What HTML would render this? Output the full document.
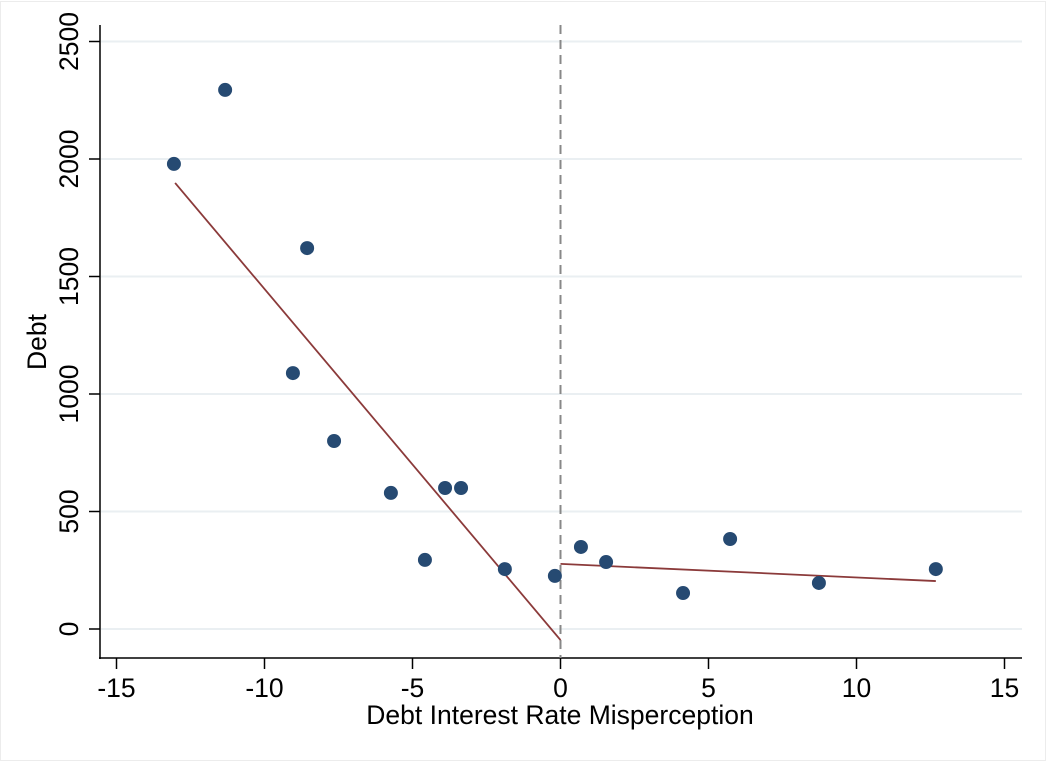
<!DOCTYPE html>
<html><head><meta charset="utf-8"><style>
body{margin:0;background:#fff;}
svg text{font-family:"Liberation Sans",Arial,sans-serif;fill:#000;}
</style></head><body>
<svg width="1046" height="762" xmlns="http://www.w3.org/2000/svg">
<rect x="0.5" y="1.5" width="1045" height="759" fill="#fff" stroke="#ececec"/>
<g id="grid"></g>
<g id="axes"></g>
<g id="marks"></g>
<text x="560" y="724" font-size="26.5" text-anchor="middle">Debt Interest Rate Misperception</text>
<text transform="translate(46,342) rotate(-90)" font-size="26.5" text-anchor="middle">Debt</text>
</svg>
<script>
const xVals=[-13.06,-11.33,-8.56,-9.04,-7.65,-5.73,-4.58,-3.90,-3.36,-1.88,-0.19,0.69,1.54,4.14,5.73,8.73,12.68];
const yVals=[1979,2294,1621,1089,800,579,294,600,600,255,226,349,285,153,383,196,255];
const leftFit=[[-13.02,1898],[0,-47]];
const rightFit=[[0,277],[12.68,204]];
const xTicks=[-15,-10,-5,0,5,10,15];
const yTicks=[0,500,1000,1500,2000,2500];
const NS='http://www.w3.org/2000/svg';
const sx=v=>560.5+v*29.6;
const sy=v=>629-v*0.235;
function mk(tag,attrs,parent){const e=document.createElementNS(NS,tag);for(const k in attrs)e.setAttribute(k,attrs[k]);document.getElementById(parent).appendChild(e);return e;}
yTicks.forEach(t=>{
  const g=mk('line',{x1:101,x2:1022,y1:sy(t),y2:sy(t),stroke:'#eaeff2','stroke-width':2},'grid');
  
  
  const tk=mk('line',{x1:89,x2:100,y1:sy(t),y2:sy(t),stroke:'#000','stroke-width':1.5},'axes');
  
  
  const lb=mk('text',{transform:`translate(78,${sy(t)}) rotate(-90)`,'font-size':26.5,'text-anchor':'middle'},'axes');
  lb.textContent=t;
  
  
});
xTicks.forEach(t=>{
  const tk=mk('line',{x1:sx(t),x2:sx(t),y1:658,y2:669,stroke:'#000','stroke-width':1.5},'axes');
  
  
  const lb=mk('text',{x:sx(t),y:697,'font-size':26.5,'text-anchor':'middle'},'axes');
  lb.textContent=t;
  
  
});
const ya=mk('line',{x1:100,x2:100,y1:25,y2:659,stroke:'#000','stroke-width':1.5},'axes');


const xa=mk('line',{x1:99,x2:1022,y1:658,y2:658,stroke:'#000','stroke-width':1.5},'axes');


const dl=mk('line',{x1:sx(0),x2:sx(0),y1:25,y2:658,stroke:'#888','stroke-width':2,'stroke-dasharray':'9,6'},'marks');


[leftFit,rightFit].forEach((f,i)=>{
  const l=mk('line',{x1:sx(f[0][0]),y1:sy(f[0][1]),x2:sx(f[1][0]),y2:sy(f[1][1]),stroke:'#8b3a3a','stroke-width':1.8},'marks');
  
  
});
xVals.forEach((x,i)=>{
  const c=mk('circle',{cx:sx(x),cy:sy(yVals[i]),r:7,fill:'#264a72'},'marks');
  
  
});
</script>
</body></html>
